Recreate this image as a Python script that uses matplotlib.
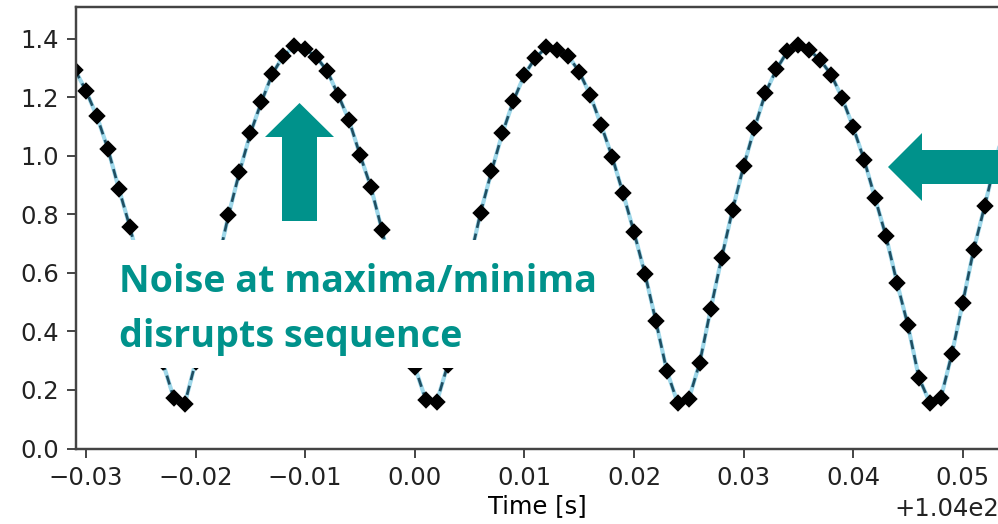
import numpy as np
import matplotlib.pyplot as plt
from matplotlib.patches import Polygon, Rectangle

# sampled signal, 1 kHz
t_start = 103.969
t_step = 0.001
signal = [1.294, 1.223, 1.135, 1.024, 0.888, 0.758, 0.610, 0.450, 0.295, 0.174,
          0.151, 0.295, 0.460, 0.630, 0.797, 0.944, 1.077, 1.184, 1.280, 1.342,
          1.374, 1.365, 1.339, 1.291, 1.209, 1.122, 1.004, 0.893, 0.748, 0.590,
          0.430, 0.280, 0.167, 0.158, 0.285, 0.460, 0.640, 0.805, 0.947, 1.078,
          1.188, 1.277, 1.335, 1.371, 1.362, 1.342, 1.288, 1.209, 1.106, 0.998,
          0.873, 0.740, 0.598, 0.435, 0.265, 0.155, 0.168, 0.293, 0.476, 0.652,
          0.816, 0.964, 1.095, 1.215, 1.296, 1.357, 1.379, 1.362, 1.328, 1.277,
          1.198, 1.098, 0.987, 0.856, 0.725, 0.567, 0.421, 0.242, 0.157, 0.172,
          0.322, 0.498, 0.680, 0.828, 0.985, 1.120]
time = t_start + t_step * np.arange(len(signal))

W, H, DPI = 999, 524, 175
fig = plt.figure(figsize=(W / DPI, H / DPI), dpi=DPI)
ax = fig.add_axes([76 / W, 75.5 / H, 923 / W, 441.5 / H])

ax.plot(time, signal, '-', color='#9fd8ea', lw=1.7)
ax.plot(time, signal, '--', color='#1f4f63', lw=1.1, dashes=(3.5, 2.2))
ax.plot(time, signal, 'D', color='black', ms=3.8, mec='black')

ax.set_xlim(103.96909, 104.05331)
ax.set_ylim(0, 1.509)
ax.set_xticks(np.round(np.arange(103.97, 104.051, 0.01), 3))
ax.set_yticks(np.arange(0, 1.41, 0.2))
ax.set_xlabel('Time [s]', labelpad=2)
ax.spines['right'].set_visible(False)
for s in ax.spines.values():
    s.set_color('#444444')
    s.set_linewidth(1.0)
ax.tick_params(colors='#444444', labelcolor='#222222')

teal = '#00928b'


def px(x, y):
    return x / W, 1 - y / H


# white label box over the curve
x0, y0 = px(110, 368)
fig.add_artist(Rectangle((x0, y0), (625 - 110) / W, (368 - 240) / H,
                         transform=fig.transFigure, facecolor='white',
                         edgecolor='none', zorder=2))
label_font = dict(color=teal, fontsize=15.5, fontweight='bold',
                  family='Open Sans', va='baseline', zorder=3)
fig.text(*px(119, 292), 'Noise at maxima/minima', **label_font)
fig.text(*px(119, 347), 'disrupts sequence', **label_font)

# up arrow
up = [(282, 221), (282, 137), (265, 137), (299.5, 103), (334, 137), (317, 137), (317, 221)]
fig.add_artist(Polygon([px(*p) for p in up], closed=True, transform=fig.transFigure,
                       facecolor=teal, edgecolor='none', zorder=3))
# left arrow
left = [(1005, 150), (922, 150), (922, 133), (888, 167), (922, 201), (922, 184), (1005, 184)]
fig.add_artist(Polygon([px(*p) for p in left], closed=True, transform=fig.transFigure,
                       facecolor=teal, edgecolor='none', zorder=3))

fig.savefig('out.png', dpi=DPI)
